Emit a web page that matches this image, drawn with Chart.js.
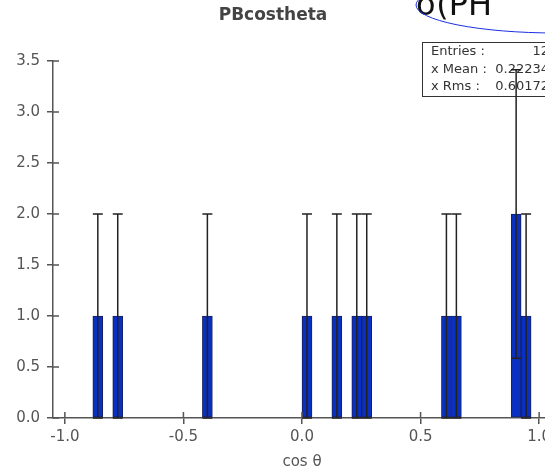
<!DOCTYPE html>
<html>
<head>
<meta charset="utf-8">
<script src="https://cdn.jsdelivr.net/npm/chart.js@4.4.1/dist/chart.umd.min.js"></script>
<style>
  html, body { margin: 0; padding: 0; background: #fff; overflow: hidden; }
  #wrap { width: 545px; height: 472px; overflow: hidden; }
</style>
</head>
<body>
<div id="wrap"><canvas id="chart-costheta" width="575" height="472"></canvas></div>
<script>
// PBcostheta histogram: 50 bins on [-1.05, 1.05], only the filled bins are listed
const binCenters = [-0.861, -0.777, -0.399, 0.021, 0.147, 0.231, 0.273, 0.609, 0.651, 0.903, 0.945];
const binCounts  = [1, 1, 1, 1, 1, 1, 1, 1, 1, 2, 1];
const binErrors  = [1, 1, 1, 1, 1, 1, 1, 1, 1, 1.414, 1];

const xTicks = [-1.0, -0.5, 0.0, 0.5, 1.0];
const yTicks = [0.0, 0.5, 1.0, 1.5, 2.0, 2.5, 3.0, 3.5];

const statLabels = ['Entries :', 'x Mean :', 'x Rms :'];
const statValues = ['12', '0.22234', '0.60172'];

const FONT = 'DejaVu Sans';
const AXIS = '#555555';

// error bars (sqrt N) drawn on top of the bars
const errorBars = {
  id: 'errorBars',
  afterDatasetsDraw(chart) {
    const { ctx, scales: { x, y } } = chart;
    const meta = chart.getDatasetMeta(0);
    ctx.save();
    ctx.strokeStyle = '#222222';
    ctx.lineWidth = 1.5;
    meta.data.forEach((bar, i) => {
      const cx = x.getPixelForValue(binCenters[i]);
      const yTop = y.getPixelForValue(binCounts[i] + binErrors[i]);
      const yBot = y.getPixelForValue(Math.max(0, binCounts[i] - binErrors[i]));
      const half = bar.width / 2;
      ctx.beginPath();
      ctx.moveTo(cx, yBot); ctx.lineTo(cx, yTop);
      ctx.moveTo(cx - half, yTop); ctx.lineTo(cx + half, yTop);
      ctx.moveTo(cx - half, yBot); ctx.lineTo(cx + half, yBot);
      ctx.stroke();
    });
    ctx.restore();
  }
};

// ticks that also reach into the plot area (ROOT style)
const innerTicks = {
  id: 'innerTicks',
  afterDraw(chart) {
    const { ctx, chartArea: a, scales: { x, y } } = chart;
    ctx.save();
    ctx.strokeStyle = AXIS;
    ctx.lineWidth = 1.5;
    ctx.beginPath();
    x.ticks.forEach((t) => {
      const px = x.getPixelForValue(t.value);
      ctx.moveTo(px, a.bottom); ctx.lineTo(px, a.bottom - 6);
    });
    y.ticks.forEach((t) => {
      const py = y.getPixelForValue(t.value);
      ctx.moveTo(a.left, py); ctx.lineTo(a.left + 6, py);
    });
    ctx.stroke();
    ctx.restore();
  }
};

// title, stats box and the stray annotation at the top right
const decor = {
  id: 'decor',
  beforeDatasetsDraw(chart) {
    const { ctx } = chart;
    ctx.save();
    ctx.fillStyle = '#ffffff';
    ctx.fillRect(422.5, 42.5, 150, 54);
    ctx.strokeStyle = '#333333';
    ctx.lineWidth = 1;
    ctx.strokeRect(422.5, 42.5, 150, 54);
    ctx.font = `13px "${FONT}"`;
    ctx.fillStyle = '#333333';
    ctx.textBaseline = 'middle';
    statLabels.forEach((s, i) => {
      ctx.textAlign = 'left';
      ctx.fillText(s, 431, 52 + i * 17.5);
      ctx.textAlign = 'right';
      ctx.fillText(statValues[i], 549, 52 + i * 17.5);
    });
    ctx.restore();
  },
  afterDraw(chart) {
    const { ctx } = chart;
    ctx.save();
    ctx.font = `bold 17px "${FONT}"`;
    ctx.fillStyle = '#444444';
    ctx.textAlign = 'center';
    ctx.textBaseline = 'middle';
    ctx.fillText('PBcostheta', 273, 16);

    ctx.font = `32px "${FONT}"`;
    ctx.fillStyle = '#111111';
    ctx.textAlign = 'left';
    ctx.textBaseline = 'alphabetic';
    ctx.fillText('σ(PH', 416, 15);

    ctx.strokeStyle = '#1a2fe0';
    ctx.lineWidth = 1;
    ctx.beginPath();
    ctx.ellipse(556, 5, 140, 28, 0, 0, Math.PI * 2);
    ctx.stroke();
    ctx.restore();
  }
};

new Chart(document.getElementById('chart-costheta'), {
  type: 'bar',
  data: {
    datasets: [{
      label: 'PBcostheta',
      data: binCenters.map((c, i) => ({ x: c, y: binCounts[i] })),
      backgroundColor: '#0a30c2',
      borderColor: '#17215e',
      borderWidth: 1,
      borderSkipped: false,
      categoryPercentage: 1.0,
      barPercentage: 1.0,
    }],
  },
  options: {
    responsive: false,
    animation: false,
    layout: { padding: { top: 61, right: 24, left: 0, bottom: 0 } },
    plugins: {
      legend: { display: false },
      tooltip: { enabled: false },
      title: { display: false },
    },
    scales: {
      x: {
        type: 'linear',
        min: -1.05,
        max: 1.05,
        offset: false,
        afterFit: (s) => { s.height = 54; },
        afterBuildTicks: (s) => { s.ticks = xTicks.map((v) => ({ value: v })); },
        ticks: {
          color: AXIS,
          font: { family: FONT, size: 15 },
          padding: 4,
          maxRotation: 0,
          callback: (v) => v.toFixed(1),
        },
        grid: { offset: false, drawOnChartArea: false, drawTicks: true, tickLength: 6, color: AXIS, lineWidth: 1.5 },
        border: { display: true, color: AXIS, width: 1.5 },
        title: {
          display: true,
          text: 'cos θ',
          color: AXIS,
          font: { family: FONT, size: 15 },
          padding: { top: 0, bottom: 1 },
        },
      },
      y: {
        min: 0,
        max: 3.5,
        afterFit: (s) => { s.width = 53; },
        afterBuildTicks: (s) => { s.ticks = yTicks.map((v) => ({ value: v })); },
        ticks: {
          color: AXIS,
          font: { family: FONT, size: 15 },
          padding: 7,
          callback: (v) => v.toFixed(1),
        },
        grid: { drawOnChartArea: false, drawTicks: true, tickLength: 6, color: AXIS, lineWidth: 1.5 },
        border: { display: true, color: AXIS, width: 1.5 },
      },
    },
  },
  plugins: [decor, errorBars, innerTicks],
});
</script>
</body>
</html>
